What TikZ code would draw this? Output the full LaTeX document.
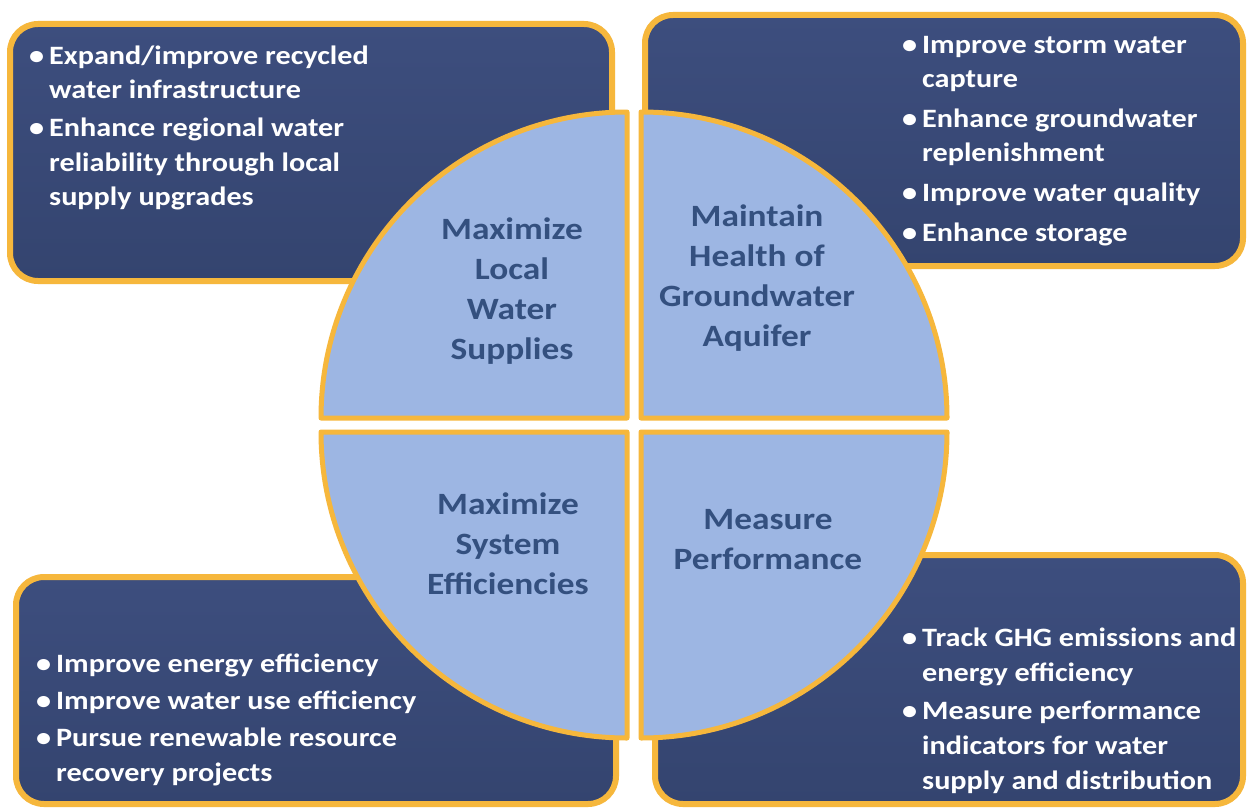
\documentclass[tikz,border=0pt]{standalone}
\usepackage{fontspec}
\setmainfont{Carlito}[FakeStretch=1.14]
\definecolor{navy}{HTML}{3D4E7E}
\definecolor{navydark}{HTML}{34446F}
\definecolor{gold}{HTML}{F6B73C}
\definecolor{qblue}{HTML}{9DB6E3}
\definecolor{qtext}{HTML}{34507F}
\newcommand\bitem[1]{\hangindent=20pt\hangafter=1\makebox[20pt][l]{\textbullet}#1}
\newcommand\bgap[1]{\par\vspace{#1}\noindent}
\tikzset{
  box/.style={draw=gold, line width=6pt, rounded corners=28pt, top color=navy, bottom color=navydark},
  quad/.style={draw=gold, line width=5pt, fill=qblue, line join=round},
  btext/.style={anchor=base west, inner sep=0pt, text=white, text width=#1, align=flush left,
    font=\bfseries\fontsize{26.5}{35}\selectfont},
  qlabel/.style={text=qtext, align=center, inner sep=0pt,
    font=\bfseries\fontsize{31}{40}\selectfont}
}
\begin{document}
\begin{tikzpicture}[x=1pt,y=-1pt]
\useasboundingbox[fill=white] (0,0) rectangle (1247,808);
% outer boxes
\draw[box] (10,24) rectangle (612,281);
\draw[box] (645,15) rectangle (1243,266);
\draw[box] (16,577) rectangle (616,804);
\draw[box] (655,555) rectangle (1243,804);
% quadrants
\draw[quad] (627,418) -- (321,418) arc[start angle=180,end angle=90,radius=306pt] -- cycle;
\draw[quad] (641,418) -- (641,112) arc[start angle=90,end angle=0,radius=306pt] -- cycle;
\draw[quad] (627,432) -- (627,738) arc[start angle=270,end angle=180,radius=306pt] -- cycle;
\draw[quad] (641,432) -- (947,432) arc[start angle=0,end angle=-90,radius=306pt] -- cycle;
% quadrant labels
\node[qlabel] (q1) at (512,291) {Maximize\\Local\\Water\\Supplies};
\node[qlabel] (q2) at (757,278) {Maintain\\Health of\\Groundwater\\Aquifer};
\node[qlabel] (q3) at (508,544) {Maximize\\System\\Efficiencies};
\node[qlabel] (q4) at (768,540) {Measure\\Performance};
% box texts
\node[btext=560pt] (t1) at (29,64) {%
\bitem{Expand/improve recycled\newline water infrastructure}\bgap{2pt}\bitem{Enhance regional water\newline reliability through local\newline supply upgrades}\par};
\node[btext=340pt] (t2) at (902,53) {\fontsize{26.5}{34}\selectfont
\bitem{Improve storm water\newline capture}\bgap{6pt}\bitem{Enhance groundwater\newline replenishment}\bgap{6pt}\bitem{Improve water quality}\bgap{6pt}\bitem{Enhance storage}\par};
\node[btext=560pt] (t3) at (36,672) {%
\bitem{Improve energy efficiency}\bgap{2pt}\bitem{Improve water use efficiency}\bgap{2pt}\bitem{Pursue renewable resource\newline recovery projects}\par};
\node[btext=340pt] (t4) at (902,646) {%
\bitem{Track GHG emissions and\newline energy efficiency}\bgap{3pt}\bitem{Measure performance\newline indicators for water\newline supply and distribution}\par};
\end{tikzpicture}
\end{document}
